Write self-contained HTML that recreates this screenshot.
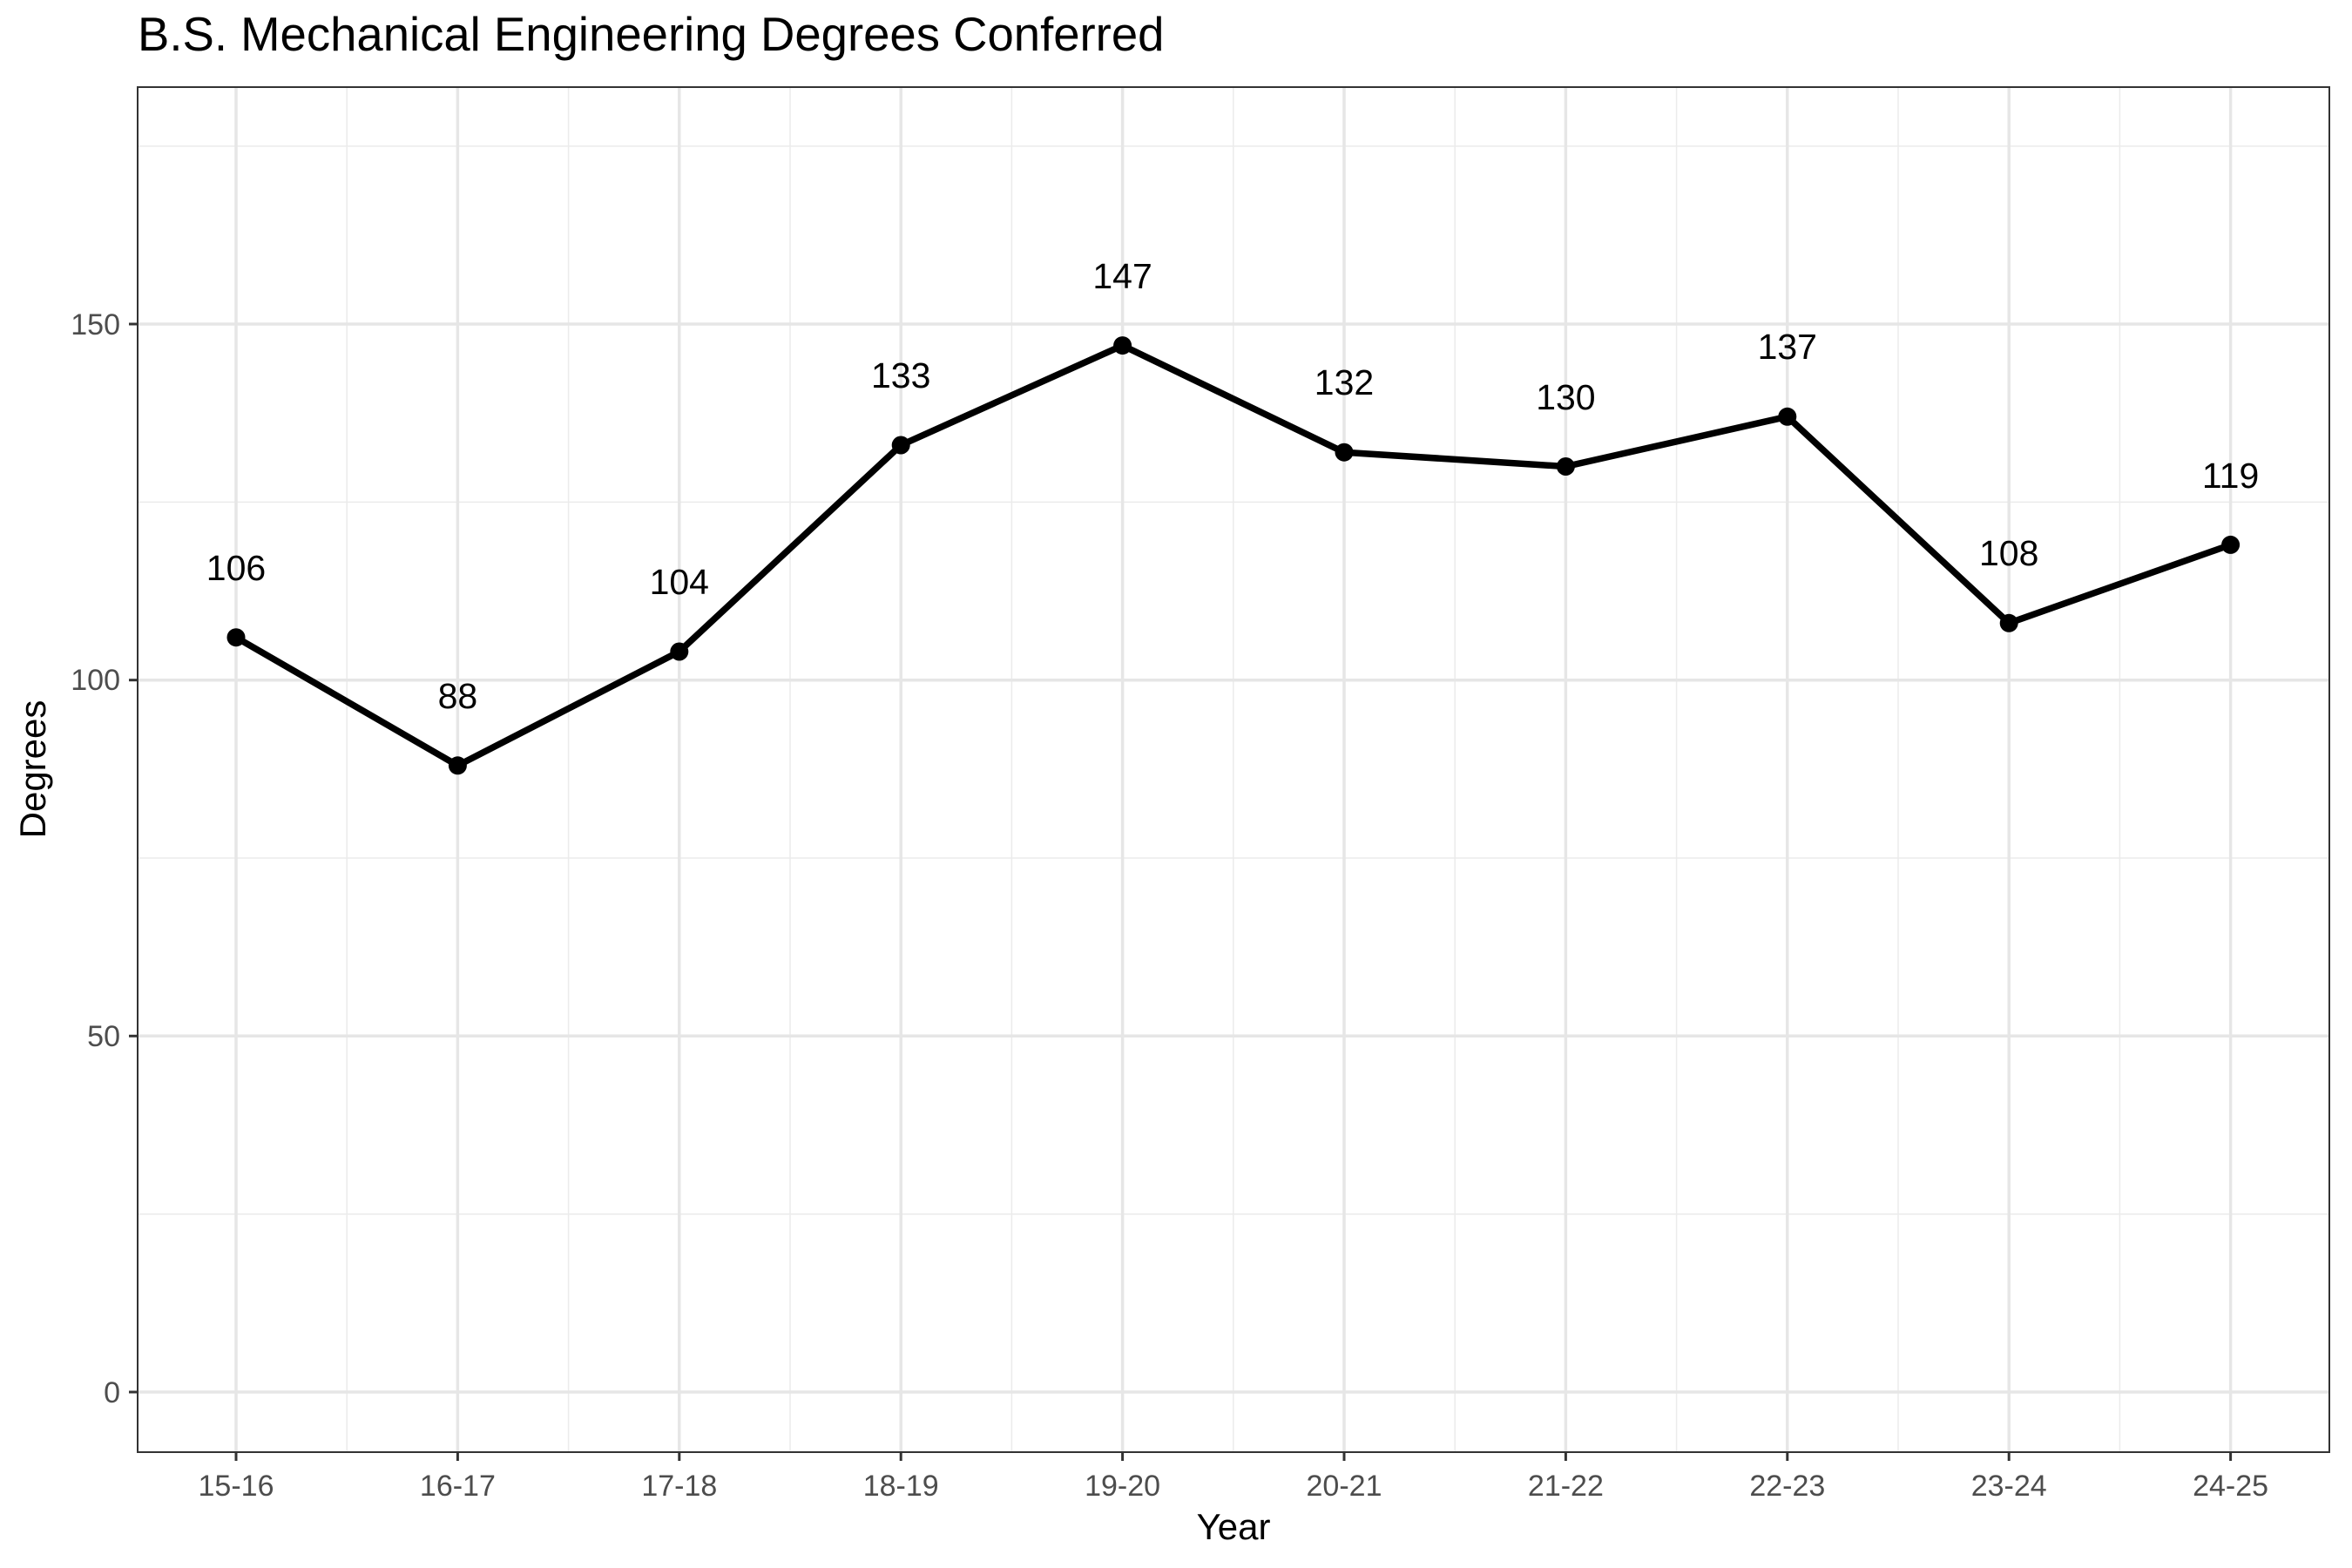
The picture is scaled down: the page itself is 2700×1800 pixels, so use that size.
<!DOCTYPE html>
<html><head><meta charset="utf-8"><style>
html,body{margin:0;padding:0;background:#fff}
svg{display:block}
text{font-family:"Liberation Sans",Arial,sans-serif}
</style></head><body>
<svg width="2700" height="1800" viewBox="0 0 2700 1800" xmlns="http://www.w3.org/2000/svg">
<rect width="2700" height="1800" fill="#fff"/>
<text x="158" y="58" font-size="54.5" fill="#000">B.S. Mechanical Engineering Degrees Conferred</text>
<g id="grid">
<g stroke="#ebebeb" stroke-width="1.5">
<line x1="158" x2="2674" y1="1393.7" y2="1393.7"/>
<line x1="158" x2="2674" y1="985" y2="985"/>
<line x1="158" x2="2674" y1="576.4" y2="576.4"/>
<line x1="158" x2="2674" y1="167.7" y2="167.7"/>
<line y1="100" y2="1667" x1="398.2" x2="398.2"/>
<line y1="100" y2="1667" x1="652.6" x2="652.6"/>
<line y1="100" y2="1667" x1="907" x2="907"/>
<line y1="100" y2="1667" x1="1161.4" x2="1161.4"/>
<line y1="100" y2="1667" x1="1415.8" x2="1415.8"/>
<line y1="100" y2="1667" x1="1670.2" x2="1670.2"/>
<line y1="100" y2="1667" x1="1924.6" x2="1924.6"/>
<line y1="100" y2="1667" x1="2179" x2="2179"/>
<line y1="100" y2="1667" x1="2433.4" x2="2433.4"/>
</g>
<g stroke="#e6e6e6" stroke-width="3.5">
<line x1="158" x2="2674" y1="1598" y2="1598"/>
<line x1="158" x2="2674" y1="1189.3" y2="1189.3"/>
<line x1="158" x2="2674" y1="780.7" y2="780.7"/>
<line x1="158" x2="2674" y1="372" y2="372"/>
<line y1="100" y2="1667" x1="271" x2="271"/>
<line y1="100" y2="1667" x1="525.4" x2="525.4"/>
<line y1="100" y2="1667" x1="779.8" x2="779.8"/>
<line y1="100" y2="1667" x1="1034.2" x2="1034.2"/>
<line y1="100" y2="1667" x1="1288.6" x2="1288.6"/>
<line y1="100" y2="1667" x1="1543" x2="1543"/>
<line y1="100" y2="1667" x1="1797.4" x2="1797.4"/>
<line y1="100" y2="1667" x1="2051.8" x2="2051.8"/>
<line y1="100" y2="1667" x1="2306.2" x2="2306.2"/>
<line y1="100" y2="1667" x1="2560.6" x2="2560.6"/>
</g>
</g>
<polyline fill="none" stroke="#000" stroke-width="7.5" stroke-linejoin="round"
points="271,731.7 525.4,878.8 779.8,748 1034.2,511 1288.6,396.6 1543,519.2 1797.4,535.5 2051.8,478.3 2306.2,715.3 2560.6,625.4"/>
<g fill="#000">
<circle cx="271" cy="731.7" r="10.5"/><circle cx="525.4" cy="878.8" r="10.5"/><circle cx="779.8" cy="748" r="10.5"/><circle cx="1034.2" cy="511" r="10.5"/><circle cx="1288.6" cy="396.6" r="10.5"/><circle cx="1543" cy="519.2" r="10.5"/><circle cx="1797.4" cy="535.5" r="10.5"/><circle cx="2051.8" cy="478.3" r="10.5"/><circle cx="2306.2" cy="715.3" r="10.5"/><circle cx="2560.6" cy="625.4" r="10.5"/>
</g>
<g font-size="41" fill="#000" text-anchor="middle">
<text x="271" y="666">106</text>
<text x="525.4" y="813">88</text>
<text x="779.8" y="682">104</text>
<text x="1034.2" y="445">133</text>
<text x="1288.6" y="331">147</text>
<text x="1543" y="453">132</text>
<text x="1797.4" y="470">130</text>
<text x="2051.8" y="412">137</text>
<text x="2306.2" y="649">108</text>
<text x="2560.6" y="560">119</text>
</g>
<rect x="158" y="100" width="2516" height="1567" fill="none" stroke="#333" stroke-width="2"/>
<g stroke="#333" stroke-width="3">
<line x1="148" x2="158" y1="1598" y2="1598"/>
<line x1="148" x2="158" y1="1189.3" y2="1189.3"/>
<line x1="148" x2="158" y1="780.7" y2="780.7"/>
<line x1="148" x2="158" y1="372" y2="372"/>
<line y1="1667" y2="1677" x1="271" x2="271"/>
<line y1="1667" y2="1677" x1="525.4" x2="525.4"/>
<line y1="1667" y2="1677" x1="779.8" x2="779.8"/>
<line y1="1667" y2="1677" x1="1034.2" x2="1034.2"/>
<line y1="1667" y2="1677" x1="1288.6" x2="1288.6"/>
<line y1="1667" y2="1677" x1="1543" x2="1543"/>
<line y1="1667" y2="1677" x1="1797.4" x2="1797.4"/>
<line y1="1667" y2="1677" x1="2051.8" x2="2051.8"/>
<line y1="1667" y2="1677" x1="2306.2" x2="2306.2"/>
<line y1="1667" y2="1677" x1="2560.6" x2="2560.6"/>
</g>
<g font-size="34" fill="#4d4d4d" text-anchor="end">
<text x="138" y="1610">0</text>
<text x="138" y="1201">50</text>
<text x="138" y="792">100</text>
<text x="138" y="384">150</text>
</g>
<g font-size="34" fill="#4d4d4d" text-anchor="middle">
<text x="271" y="1717">15-16</text>
<text x="525.4" y="1717">16-17</text>
<text x="779.8" y="1717">17-18</text>
<text x="1034.2" y="1717">18-19</text>
<text x="1288.6" y="1717">19-20</text>
<text x="1543" y="1717">20-21</text>
<text x="1797.4" y="1717">21-22</text>
<text x="2051.8" y="1717">22-23</text>
<text x="2306.2" y="1717">23-24</text>
<text x="2560.6" y="1717">24-25</text>
</g>
<text x="1416" y="1767" font-size="42" fill="#000" text-anchor="middle">Year</text>
<text transform="translate(52,883) rotate(-90)" font-size="42" fill="#000" text-anchor="middle">Degrees</text>
</svg>
</body></html>
